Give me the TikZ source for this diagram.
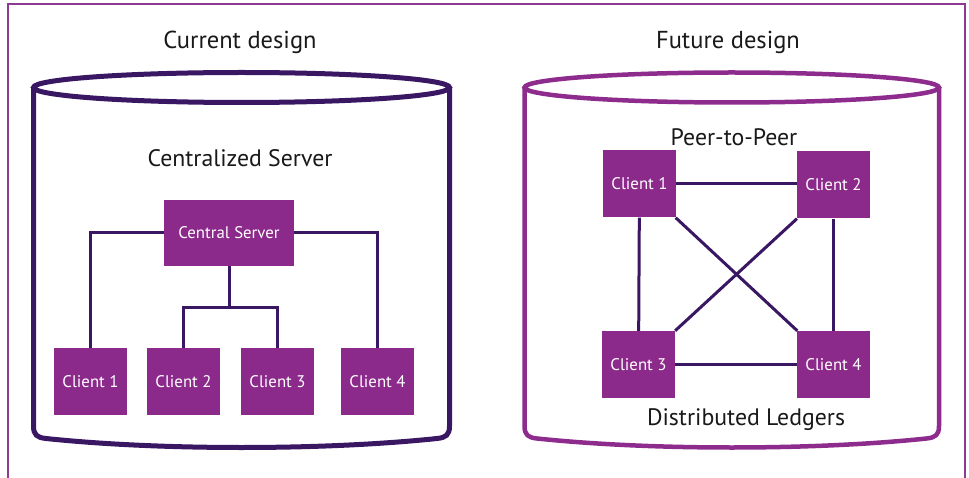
\documentclass[tikz,border=0pt]{standalone}
\usepackage{fontspec}
\setmainfont{PT Sans}
\definecolor{darkpurple}{HTML}{3A1762}
\definecolor{boxpurple}{HTML}{8B2A8B}
\definecolor{cylpurple}{HTML}{8E2C8E}
\definecolor{framepurple}{HTML}{8F3A92}
\begin{document}
\begin{tikzpicture}[x=1pt,y=-1pt,
  client/.style={fill=boxpurple,text=white,minimum width=73pt,minimum height=67pt,inner sep=0pt,font=\fontsize{16.8}{19}\selectfont},
  link/.style={draw=darkpurple,line width=3pt},
  title/.style={font=\fontsize{24.5}{28}\selectfont,text=black!90},
  sub/.style={font=\fontsize{23.8}{27}\selectfont,text=black!90}]
\useasboundingbox (0,0) rectangle (969,478);
% outer frame
\draw[framepurple,line width=2pt] (8,478) -- (8,4) -- (965,4) -- (965,478);
% left cylinder
\draw[darkpurple,line width=5pt] (241.5,87.5) ellipse [x radius=208,y radius=15];
\draw[darkpurple,line width=5pt,line join=round] (33.5,87.5) -- (33.5,426) .. controls (33.5,435) and (37,437.5) .. (46,438.5) .. controls (160,450.5) and (323,450.5) .. (437,438.5) .. controls (446,437.5) and (449.5,435) .. (449.5,426) -- (449.5,87.5);
% right cylinder
\draw[cylpurple,line width=4.5pt] (731.75,87.5) ellipse [x radius=207.25,y radius=15];
\draw[cylpurple,line width=4.5pt,line join=round] (524.5,87.5) -- (524.5,426) .. controls (524.5,435) and (528,437.5) .. (537,438.5) .. controls (651,450.5) and (812.5,450.5) .. (926.5,438.5) .. controls (935.5,437.5) and (939,435) .. (939,426) -- (939,87.5);
% titles
\node[title] (t1) at (240,42) {Current design};
\node[title] (t2) at (728,42) {Future design};
\node[sub] (s1) at (240,158) {Centralized Server};
\node[sub] (s2) at (734,137) {Peer-to-Peer};
\node[sub] (s3) at (746,420) {Distributed Ledgers};
% left nodes
\node[client,minimum width=130pt,minimum height=66pt] (srv) at (229,233) {Central Server};
\node[client] (lc1) at (90.5,381.5) {Client 1};
\node[client] (lc2) at (183.5,381.5) {Client 2};
\node[client] (lc3) at (277.5,381.5) {Client 3};
\node[client] (lc4) at (377.5,381.5) {Client 4};
\coordinate (mid) at (229,308);
\draw[link] (srv.west) -| (lc1.north);
\draw[link] (srv.east) -| (lc4.north);
\draw[link] (srv.south) -- (mid);
\draw[link] (lc2.north) |- (mid) -| (lc3.north);
% right nodes
\node[client] (rc1) at (639.5,184) {Client 1};
\node[client] (rc2) at (833.5,185) {Client 2};
\node[client] (rc3) at (638.5,364.5) {Client 3};
\node[client] (rc4) at (833.5,364.5) {Client 4};
\draw[link] (rc1.east) -- (rc2.west |- rc1.east);
\draw[link] (rc3) -- (rc4);
\draw[link] (rc1) -- (rc3);
\draw[link] (rc2) -- (rc4);
\draw[link] (rc1) -- (rc4);
\draw[link] (rc2) -- (rc3);
\end{tikzpicture}
\end{document}
